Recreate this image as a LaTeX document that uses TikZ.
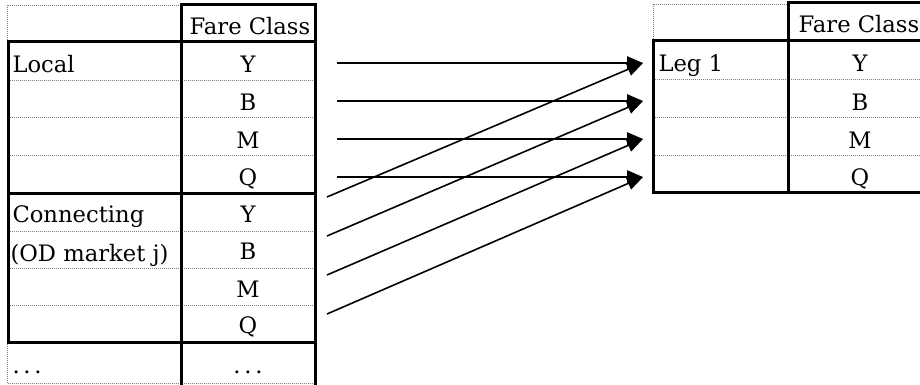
\documentclass[tikz,border=0pt]{standalone}
\usepackage{fontspec}
\setmainfont{DejaVu Serif}
\usepackage{tikz}
\usetikzlibrary{arrows.meta}
\tikzset{every picture/.style={line width=0.75pt}}
\tikzset{
  rule/.style={line width=2.25pt},
  grid/.style={densely dotted, gray, line width=0.5pt},
  txt/.style={font=\fontsize{17}{19}\selectfont, inner sep=0pt, anchor=base},
  link/.style={line width=1.2pt, -{Triangle[length=12pt,width=10pt]}},
}

\begin{document}
\begin{tikzpicture}[x=0.75pt,y=0.75pt,yscale=-1]
\useasboundingbox (0,0) rectangle (920,385);
\clip (0,0) rectangle (920,385);

%Left table: dotted frame and rows
\draw[grid] (7,42) -- (7,5) -- (181,5);
\draw[grid] (7,342) -- (7,383) -- (315,383);
\foreach \y in {80,117,155,231,268,305} \draw[grid] (8,\y) -- (315,\y);
%Left table: thick rules
\draw[rule] (181,5) rectangle (315,42);
\draw[rule] (8,42) rectangle (315,193);
\draw[rule] (8,193) rectangle (315,342);
\draw[rule] (181,42) -- (181,385);
\draw[rule] (315,342) -- (315,385);

%Left table: texts
\node[txt] (lhead) at (250,35) {Fare Class};
\node[txt, anchor=base west] (local) at (12,73) {Local};
\node[txt, anchor=base west] (conn) at (12,222) {Connecting};
\node[txt, anchor=base west] (odmkt) at (10,261) {(OD market j)};
\node[txt, anchor=base west] (ldots) at (12,373) {.\,.\,.};
\node[txt] (rdots) at (248,373) {.\,.\,.};
\foreach \c/\y in {Y/73,B/110,M/148,Q/185} \node[txt] (loc\c) at (248,\y) {\c};
\foreach \c/\y in {Y/222,B/259,M/297,Q/333} \node[txt] (con\c) at (248,\y) {\c};

%Right table
\draw[grid] (653,41) -- (653,4) -- (788,4);
\foreach \y in {79,117,155} \draw[grid] (653,\y) -- (921,\y);
\draw[rule] (788,3) rectangle (925,41);
\draw[rule] (653,41) rectangle (925,192);
\draw[rule] (788,41) -- (788,192);
\node[txt] (rhead) at (859,33) {Fare Class};
\node[txt, anchor=base west] (leg) at (658,72) {Leg 1};
\foreach \c/\y in {Y/72,B/110,M/148,Q/185} \node[txt] (leg\c) at (860,\y) {\c};

%Arrows
\foreach \c/\y in {Y/63,B/101,M/139,Q/177} {
  \coordinate (s\c) at (337,\y);
  \coordinate (t\c) at (643,\y);
}
\foreach \c/\y in {Y/197,B/236,M/275,Q/314} \coordinate (d\c) at (327,\y);
\foreach \c in {Y,B,M,Q} {
  \draw[link] (s\c) -- (t\c);
  \draw[link] (d\c) -- (t\c);
}

\end{tikzpicture}
\end{document}
